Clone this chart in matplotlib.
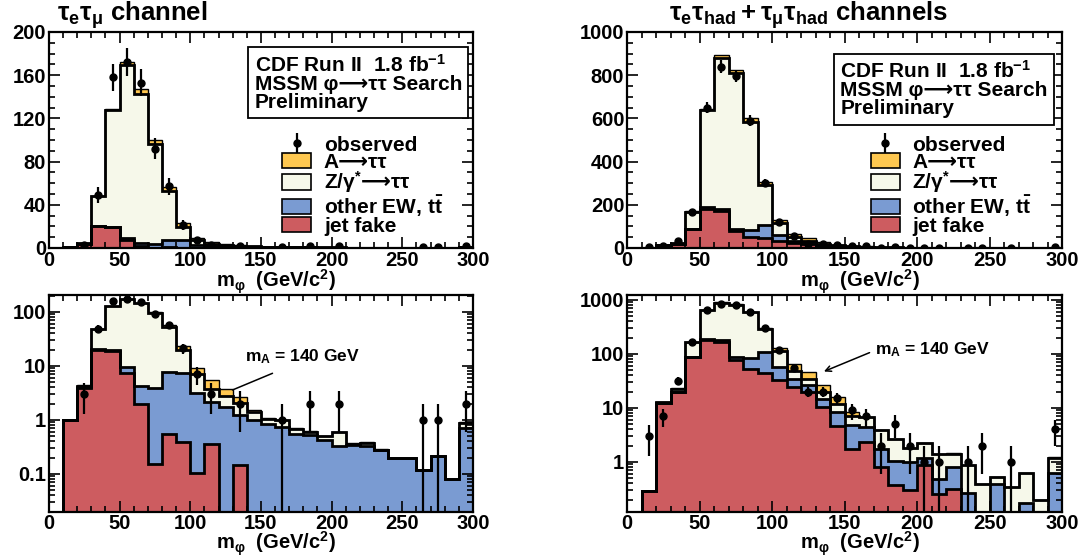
import numpy as np
import matplotlib
matplotlib.use("Agg")
import matplotlib.pyplot as plt
from matplotlib.patches import Patch
from matplotlib.ticker import MultipleLocator, LogLocator, FuncFormatter, NullFormatter

plt.rcParams['font.family'] = ['Liberation Sans', 'DejaVu Sans']
plt.rcParams['font.weight'] = 'bold'
plt.rcParams['axes.labelweight'] = 'bold'
plt.rcParams['mathtext.fontset'] = 'custom'
plt.rcParams['mathtext.rm'] = 'Liberation Sans:bold'
plt.rcParams['mathtext.it'] = 'Liberation Sans:bold'
plt.rcParams['mathtext.bf'] = 'Liberation Sans:bold'
plt.rcParams['mathtext.sf'] = 'DejaVu Sans:bold'
plt.rcParams['mathtext.default'] = 'rm'

# 10 GeV bins from 0 to 300
edges = np.arange(0, 301, 10)
centers = edges[:-1] + 5

# tau_e tau_mu channel (per-component contributions)
emu_jet = [0, 1.0, 3.8, 20, 19, 7.5, 2.0, 0.15, 0.54, 0.38, 0.105, 0.36, 0, 0.145, 0,
           0, 0, 0, 0, 0, 0, 0, 0, 0, 0, 0, 0, 0, 0, 0]
emu_ew = [0, 0, 0.3, 0.2, 0.3, 1.8, 2.2, 3.75, 7.26, 6.82, 3.0, 1.74, 1.7, 1.1, 1.0,
          0.85, 0.75, 0.55, 0.52, 0.43, 0.33, 0.34, 0.33, 0.27, 0.2, 0.2, 0.12, 0.21, 0.08, 0.7]
emu_ztt = [0, 0, 0.2, 27.8, 108.7, 159.7, 138.4, 92.1, 44.7, 12.3, 3.9, 1.6, 1.1, 0.76, 0.42,
           0.2, 0.22, 0.13, 0.08, 0.07, 0.26, 0.02, 0.04, 0.01, 0, 0, 0, 0, 0, 0.18]
emu_att = [0, 0, 0.05, 0.5, 1.0, 3.0, 4.4, 4.0, 4.0, 3.5, 2.0, 1.8, 0.9, 0.6, 0.13,
           0.03, 0.02, 0.02, 0.01, 0.01, 0.01, 0.01, 0.01, 0.01, 0, 0, 0, 0, 0, 0.04]
emu_obs = [0, 0, 3, 49, 158, 172, 153, 92, 57, 21, 7, 3, 0, 2, 0,
           0, 1, 0, 2, 0, 2, 0, 0, 0, 0, 0, 1, 1, 0, 2]

# tau_e tau_had + tau_mu tau_had channels
lhad_jet = [0, 0.285, 12.4, 19.7, 89, 181, 169, 77.7, 52, 45, 33, 24.5, 20, 10.5, 4.7,
            1.75, 2.37, 0.79, 0.37, 0.30, 0.87, 0.25, 0.32, 0, 0, 0, 0, 0, 0, 0]
lhad_ew = [0, 0, 0, 0, 0, 9, 11, 11.3, 31, 61, 25, 9.5, 7, 4.2, 3.7,
           3.05, 2.03, 0.92, 0.67, 0.7, 0.33, 0.23, 0.47, 0.265, 0, 0.39, 0, 0.17, 0, 0.62]
lhad_ztt = [0, 0, 0.2, 3.0, 79, 450, 700, 721, 502, 186, 57, 15, 7.6, 4.7, 3.4,
            2.4, 2.3, 2.09, 1.56, 0.8, 1.0, 0.9, 0.63, 0.6, 0.38, 0.14, 0.34, 0.45, 0.2, 0.58]
lhad_att = [0, 0, 0, 0.1, 1, 3, 15, 15, 15, 13, 13, 17, 12.4, 7.6, 3.9,
            1.2, 0.2, 0.1, 0.05, 0.02, 0, 0.02, 0.01, 0.01, 0, 0, 0, 0, 0, 0.02]
lhad_obs = [0, 3, 7, 32, 165, 650, 840, 795, 590, 300, 118, 54, 20, 20, 15,
            9, 7, 2, 5, 2, 1, 1, 0, 1, 2, 0, 1, 0, 0, 4]

c_att = '#FFC850'
c_ztt = '#F6F8EA'
c_ew = '#7A9BD2'
c_jet = '#CD5C60'


def draw_stack(ax, jet, ew, ztt, att, obs, log):
    jet, ew, ztt, att, obs = map(np.asarray, (jet, ew, ztt, att, obs))
    c1 = jet
    c2 = c1 + ew
    c3 = c2 + ztt
    c4 = c3 + att
    base = 1e-4 if log else 0
    layers = [(c4, c_att, 1.0), (c3, c_ztt, 2.0), (c2, c_ew, 2.0), (c1, c_jet, 2.0)]
    for cum, col, lw in layers:
        vals = np.where(cum > 0, cum, base)
        ax.stairs(vals, edges, baseline=base, fill=True, color=col, lw=0)
    for cum, col, lw in layers:
        vals = np.where(cum > 0, cum, base)
        ax.stairs(vals, edges, baseline=base, color='black', lw=lw)
    m = obs > 0
    eb = ax.errorbar(centers[m], obs[m], yerr=np.sqrt(obs[m]), fmt='o', color='black',
                     ms=5, elinewidth=1.6, capsize=0, zorder=5)
    ax.set_xlim(0, 300)
    if log:
        ax.set_yscale('log')
        ax.yaxis.set_major_locator(LogLocator(base=10))
        ax.yaxis.set_minor_locator(LogLocator(base=10, subs=np.arange(2, 10)))
        ax.yaxis.set_major_formatter(FuncFormatter(lambda v, _: f'{v:g}'))
        ax.yaxis.set_minor_formatter(NullFormatter())
    ax.xaxis.set_major_locator(MultipleLocator(50))
    ax.xaxis.set_minor_locator(MultipleLocator(10))
    ax.tick_params(which='both', direction='in', top=True, right=True, labelsize=14.5, width=1.2)
    ax.tick_params(which='major', length=8, pad=2)
    ax.tick_params(which='minor', length=4)
    for s in ax.spines.values():
        s.set_linewidth(1.6)
    ax.set_xlabel(r'$m_{φ}$  (GeV/c$^{2}$)', fontsize=14.5, fontweight='bold')
    ax.xaxis.set_label_coords(0.535, -0.09 if not log else -0.082)
    return eb


def add_legend(ax, eb, x0, y0):
    handles = [eb,
               Patch(facecolor=c_att, edgecolor='black', lw=1.2),
               Patch(facecolor=c_ztt, edgecolor='black', lw=1.2),
               Patch(facecolor=c_ew, edgecolor='black', lw=1.2),
               Patch(facecolor=c_jet, edgecolor='black', lw=1.2)]
    labels = ['observed', 'A⟶ττ', r'Z/γ$^{*}\mathsf{⟶}$ττ', r'other EW, t$\bar{t}$',
              'jet fake']
    ax.legend(handles, labels, loc='upper left', bbox_to_anchor=(x0, y0), frameon=False,
              fontsize=15, handlelength=1.4, handleheight=0.75, labelspacing=-0.1,
              handletextpad=0.6, borderpad=0, borderaxespad=0)


def add_box(ax, x0, y0):
    ax.text(x0, y0, 'CDF Run II  1.8 fb$^{-1}$\nMSSM φ⟶ττ Search\nPreliminary',
            transform=ax.transAxes, ha='left', va='top', fontsize=15, linespacing=0.95,
            bbox=dict(boxstyle='square,pad=0.3', fc='white', ec='black', lw=1.3))


fig = plt.figure(figsize=(10.83, 5.56), dpi=100)
ax1 = fig.add_axes([0.0452, 0.554, 0.3915, 0.3885])
ax2 = fig.add_axes([0.579, 0.554, 0.4017, 0.3885])
ax3 = fig.add_axes([0.0452, 0.080, 0.3915, 0.3895])
ax4 = fig.add_axes([0.579, 0.080, 0.4017, 0.3895])

eb1 = draw_stack(ax1, emu_jet, emu_ew, emu_ztt, emu_att, emu_obs, False)
ax1.set_ylim(0, 200)
ax1.yaxis.set_major_locator(MultipleLocator(40))
ax1.yaxis.set_minor_locator(MultipleLocator(10))
add_box(ax1, 0.485, 0.9)
add_legend(ax1, eb1, 0.55, 0.52)

eb2 = draw_stack(ax2, lhad_jet, lhad_ew, lhad_ztt, lhad_att, lhad_obs, False)
ax2.set_ylim(0, 1000)
ax2.yaxis.set_major_locator(MultipleLocator(200))
ax2.yaxis.set_minor_locator(MultipleLocator(50))
add_box(ax2, 0.49, 0.87)
add_legend(ax2, eb2, 0.56, 0.52)

draw_stack(ax3, emu_jet, emu_ew, emu_ztt, emu_att, emu_obs, True)
ax3.set_ylim(0.02, 205)
ax3.text(139, 14.9, 'm$_{A}$ = 140 GeV', fontsize=12.5, va='center', ha='left')
ax3.annotate('', xy=(128, 3.4), xytext=(160, 7.6),
             arrowprops=dict(arrowstyle='-', lw=1.1, color='black'))

draw_stack(ax4, lhad_jet, lhad_ew, lhad_ztt, lhad_att, lhad_obs, True)
ax4.set_ylim(0.12, 1230)
ax4.text(171, 118, 'm$_{A}$ = 140 GeV', fontsize=12.5, va='center', ha='left')
ax4.annotate('', xy=(134, 45), xytext=(169, 110),
             arrowprops=dict(arrowstyle='->', lw=1.1, color='black'))

fig.text(0.053, 0.962, r'$τ_{e}τ_{μ}$ channel', fontsize=18.5, va='baseline', ha='left')
fig.text(0.618, 0.962, r'$τ_{e}τ_{had}+τ_{μ}τ_{had}$ channels', fontsize=18.5,
         va='baseline', ha='left')

fig.savefig('out.png', dpi=100)
